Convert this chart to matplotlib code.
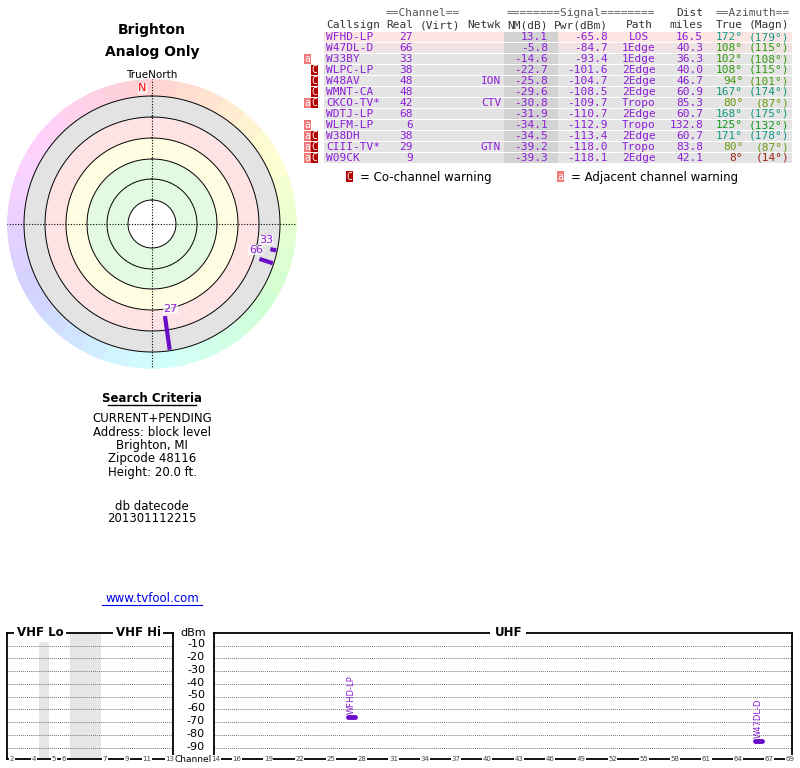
import colorsys
import numpy as np
import matplotlib
matplotlib.use("Agg")
import matplotlib.pyplot as plt
from matplotlib.patches import Rectangle

# ---- data ----
callsigns = ["WFHD-LP", "W47DL-D", "W33BY", "WLPC-LP", "W48AV", "WMNT-CA", "CKCO-TV*",
             "WDTJ-LP", "WLFM-LP", "W38DH", "CIII-TV*", "W09CK"]
real_ch = [27, 66, 33, 38, 48, 48, 42, 68, 6, 38, 29, 9]
netwk = ["", "", "", "", "ION", "", "CTV", "", "", "", "GTN", ""]
nm_db = [13.1, -5.8, -14.6, -22.7, -25.8, -29.6, -30.8, -31.9, -34.1, -34.5, -39.2, -39.3]
pwr_dbm = [-65.8, -84.7, -93.4, -101.6, -104.7, -108.5, -109.7, -110.7, -112.9, -113.4, -118.0, -118.1]
path = ["LOS", "1Edge", "1Edge", "2Edge", "2Edge", "2Edge", "Tropo", "2Edge", "Tropo", "2Edge", "Tropo", "2Edge"]
dist = [16.5, 40.3, 36.3, 40.0, 46.7, 60.9, 85.3, 60.7, 132.8, 60.7, 83.8, 42.1]
az_true = [172, 108, 102, 108, 94, 167, 80, 168, 125, 171, 80, 8]
az_magn = [179, 115, 108, 115, 101, 174, 87, 175, 132, 178, 87, 14]
warn_adj = [0, 0, 1, 0, 0, 0, 1, 0, 1, 1, 1, 1]
warn_co = [0, 0, 0, 1, 1, 1, 1, 0, 0, 1, 1, 1]

radar_ch = [27, 66, 33]
radar_az = [172, 108, 102]
radar_r0 = [93, 113, 121]

criteria = ["CURRENT+PENDING", "Address: block level", "Brighton, MI",
            "Zipcode 48116", "Height: 20.0 ft."]

spec_names = ["WFHD-LP", "W47DL-D"]
spec_ch = [27, 66]
spec_dbm = [-65.8, -84.7]

vhf_ticks = [2, 4, 5, 6, 7, 9, 11, 13]
vhf_tick_x = [12, 34, 54, 64, 105, 127, 147, 170]
uhf_ticks = [14, 16, 19, 22, 25, 28, 31, 34, 37, 40, 43, 46, 49, 52, 55, 58, 61, 64, 67, 69]
dbm_ticks = [-10, -20, -30, -40, -50, -60, -70, -80, -90]

PURPLE = "#8c1ed8"
MONO = "DejaVu Sans Mono"


def az_color(az, s=0.9, v=0.6):
    return colorsys.hsv_to_rgb((az / 360.0) % 1, s, v)


fig = plt.figure(figsize=(8, 7.68), dpi=100)
base = fig.add_axes([0, 0, 1, 1])
base.set_xlim(0, 800)
base.set_ylim(768, 0)
base.axis("off")

# ---- left texts ----
base.text(152, 30, "Brighton", ha="center", va="center", fontsize=10, fontweight="bold")
base.text(152, 52, "Analog Only", ha="center", va="center", fontsize=10, fontweight="bold")
base.text(152, 75, "TrueNorth", ha="center", va="center", fontsize=7.5)
base.text(152, 398, "Search Criteria", ha="center", va="center", fontsize=8.5,
          fontweight="bold")
base.plot([108, 196], [405, 405], color="black", lw=1)
for i, line in enumerate(criteria):
    base.text(152, 419 + i * 13.3, line, ha="center", va="center", fontsize=8.5)
base.text(152, 506, "db datecode", ha="center", va="center", fontsize=8.5)
base.text(152, 519, "201301112215", ha="center", va="center", fontsize=8.5)
base.text(152, 598, "www.tvfool.com", ha="center", va="center", fontsize=8.5, color="#0000ee")
base.plot([102, 202], [605, 605], color="#0000ee", lw=0.8)

# ---- table ----
ty0, dy = 37, 11
base.text(423, 13, "==Channel==", ha="center", va="center", family=MONO, fontsize=8, color="#555")
base.text(581, 13, "========Signal========", ha="center", va="center", family=MONO, fontsize=8, color="#555")
base.text(703, 13, "Dist", ha="right", va="center", family=MONO, fontsize=8, color="#333")
base.text(753, 13, "==Azimuth==", ha="center", va="center", family=MONO, fontsize=8, color="#555")
heads = [(326, "Callsign", "left"), (413, "Real", "right"), (460, "(Virt)", "right"),
         (501, "Netwk", "right"), (548, "NM(dB)", "right"), (608, "Pwr(dBm)", "right"),
         (639, "Path", "center"), (703, "miles", "right"), (743, "True", "right"),
         (789, "(Magn)", "right")]
for x, t, ha in heads:
    base.text(x, 25, t, ha=ha, va="center", family=MONO, fontsize=8, color="#333")

for i in range(len(callsigns)):
    y = ty0 + i * dy
    bg = "#fde6e2" if i == 0 else ("#eee2e2" if i == 1 else "#e4e4e4")
    base.add_patch(Rectangle((324, y - 5.5), 468, 10.5, color=bg, lw=0))
    base.add_patch(Rectangle((504, y - 5.5), 54, 10.5, color="#d2d2d2", lw=0))
    kw = dict(va="center", family=MONO, fontsize=8, color=PURPLE)
    base.text(326, y, callsigns[i], ha="left", **kw)
    base.text(413, y, str(real_ch[i]), ha="right", **kw)
    base.text(501, y, netwk[i], ha="right", **kw)
    base.text(548, y, f"{nm_db[i]:.1f}", ha="right", **kw)
    base.text(608, y, f"{pwr_dbm[i]:.1f}", ha="right", **kw)
    base.text(639, y, path[i], ha="center", **kw)
    base.text(703, y, f"{dist[i]:.1f}", ha="right", **kw)
    c = az_color(az_true[i])
    base.text(743, y, f"{az_true[i]}°", ha="right", va="center", family=MONO, fontsize=8, color=c)
    base.text(789, y, f"({az_magn[i]}°)", ha="right", va="center", family=MONO, fontsize=8, color=c)
    if warn_adj[i]:
        base.add_patch(Rectangle((304, y - 5.5), 7, 10.5, color="#f07a7a", lw=0))
        base.text(307.5, y, "a", ha="center", va="center", family=MONO, fontsize=7, color="white")
    if warn_co[i]:
        base.add_patch(Rectangle((311, y - 5.5), 7, 10.5, color="#b00000", lw=0))
        base.text(314.5, y, "C", ha="center", va="center", family=MONO, fontsize=7, color="white")

base.add_patch(Rectangle((346, 171), 7, 11, color="#b00000", lw=0))
base.text(349.5, 176.5, "C", ha="center", va="center", family=MONO, fontsize=7, color="white")
base.text(360, 177, "= Co-channel warning", ha="left", va="center", fontsize=8.5)
base.add_patch(Rectangle((557, 171), 7, 11, color="#f07a7a", lw=0))
base.text(560.5, 176.5, "a", ha="center", va="center", family=MONO, fontsize=7, color="white")
base.text(571, 177, "= Adjacent channel warning", ha="left", va="center", fontsize=8.5)

# ---- radar ----
rad = fig.add_axes([7 / 800, 1 - 369 / 768, 290 / 800, 290 / 768], projection="polar")
rad.set_theta_zero_location("N")
rad.set_theta_direction(-1)
rad.set_ylim(0, 145)
rad.axis("off")
sect = np.deg2rad(np.arange(0, 360, 10))
for th in sect:
    deg = np.rad2deg(th) + 5
    col = colorsys.hsv_to_rgb((deg / 360.0) % 1, 0.18, 1.0)
    rad.bar(th, 17, width=np.deg2rad(10.5), bottom=128, color=col, align="edge", lw=0)
bands = [(107, 128, "#e3e3e3"), (86, 107, "#fde3e3"), (65, 86, "#fffde2"), (24, 65, "#e2fae2")]
for r0, r1, col in bands:
    rad.bar(0, r1 - r0, width=2 * np.pi, bottom=r0, color=col, lw=0)
circ = np.linspace(0, 2 * np.pi, 361)
for r in [24, 45, 65, 86, 107, 128]:
    rad.plot(circ, np.full_like(circ, r), color="black", lw=0.7)
for a in [0, 90, 180, 270]:
    rad.plot([np.deg2rad(a)] * 2, [0, 145], color="black", lw=0.8, ls=(0, (1, 1.5)))
rad.text(np.deg2rad(-4), 136, "N", ha="center", va="center", color="red", fontsize=8,
         bbox=dict(fc="white", ec="none", pad=0.3, alpha=0.6))
for ch, az, r0 in zip(radar_ch, radar_az, radar_r0):
    rad.plot([np.deg2rad(az)] * 2, [r0, 127], color="#6a0dc8", lw=3, solid_capstyle="butt")
    rad.text(np.deg2rad(az - 4), r0 - 6, str(ch), ha="center", va="center", color=PURPLE,
             fontsize=8, bbox=dict(fc="white", ec="none", pad=0.2, alpha=0.7))

# ---- spectrum ----
def px(x0, x1):
    return [x0 / 800, 1 - 759 / 768, (x1 - x0) / 800, 126 / 768]


def panel(ax, ticks, tick_x, xlim):
    ax.set_xlim(*xlim)
    ax.set_ylim(-99, 0)
    for v in dbm_ticks:
        ax.axhline(v, color="#777", lw=0.7, ls=(0, (1, 1)))
    ax.set_xticks([])
    ax.set_yticks([])
    for s in ax.spines.values():
        s.set_linewidth(1.3)
    for t, x in zip(ticks, tick_x):
        ax.text(x, -99, str(t), ha="center", va="center", fontsize=5, color="#444",
                bbox=dict(fc="white", ec="none", pad=0.4), clip_on=False)


vhf = fig.add_axes(px(7, 173))
panel(vhf, vhf_ticks, vhf_tick_x, (7, 173))
vhf.axvspan(39, 49, color="#e6e6e6", lw=0)
vhf.axvspan(70, 101, color="#e6e6e6", lw=0)
vhf.text(40, 0, "VHF Lo", ha="center", va="center", fontsize=8.5, fontweight="bold",
         bbox=dict(fc="white", ec="none", pad=2), clip_on=False)
vhf.text(138, 0, "VHF Hi", ha="center", va="center", fontsize=8.5, fontweight="bold",
         bbox=dict(fc="white", ec="none", pad=2), clip_on=False)

uhf = fig.add_axes(px(214, 792))
panel(uhf, uhf_ticks, uhf_ticks, (13.8, 69.2))
uhf.text(42, 0, "UHF", ha="center", va="center", fontsize=8.5, fontweight="bold",
         bbox=dict(fc="white", ec="none", pad=3), clip_on=False)
for name, ch, v in zip(spec_names, spec_ch, spec_dbm):
    uhf.plot([ch - 0.35, ch + 0.35], [v, v], color="#6a0dc8", lw=3.5, solid_capstyle="round")
    uhf.text(ch, v + 2.5, name, rotation=90, ha="center", va="bottom", fontsize=6, color=PURPLE)

base.text(193, 633, "dBm", ha="center", va="center", fontsize=8)
for v in dbm_ticks:
    base.text(205, 631 - v * 1.29, str(v), ha="right", va="center", fontsize=8)
base.text(193, 759, "Channel", ha="center", va="center", fontsize=6.5)

fig.savefig("out.png", dpi=100)
